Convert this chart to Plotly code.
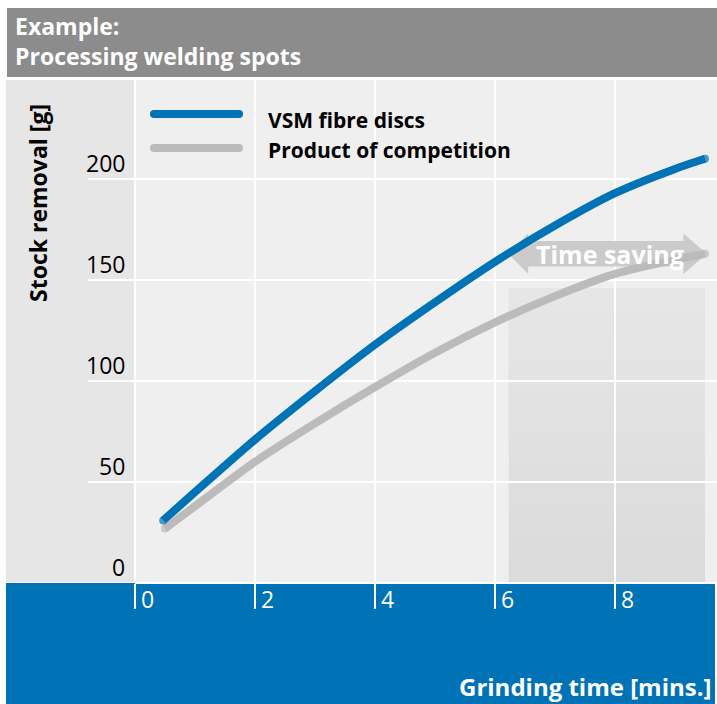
import numpy as np
import plotly.graph_objects as go

# ---------------- data ----------------
vsm_x = [0.47, 1, 2, 3, 4, 5, 6, 7, 8, 9, 9.5]
vsm_y = [31, 45, 71, 95, 118, 139, 159, 177, 193, 205, 210]
comp_x = [0.5, 1, 2, 3, 4, 5, 6, 7, 8, 9, 9.5]
comp_y = [27, 38, 60, 79, 97, 114, 129, 142, 153, 160, 163]
series_names = ["VSM fibre discs", "Product of competition"]
x_ticks = [0, 2, 4, 6, 8]
y_ticks = [0, 50, 100, 150, 200]
title_lines = ["Example:", "Processing welding spots"]
x_title = "Grinding time [mins.]"
y_title = "Stock removal [g]"
arrow_label = "Time saving"

# ---------------- style / layout ----------------
W, H = 717, 704
FONT = "Open Sans"
BLUE = "#0072b6"
GRAY_LINE = "#bbbbbb"
TITLE_BG = "#8c8c8c"
LEFT_BG = "#e6e6e6"
PLOT_BG = "#efefef"
ARROW_C = "#cbcbcb"

def px(p):
    return p / W

def py(p):
    return 1 - p / H

XDOM = [px(135), 1.0]
YDOM = [py(583), py(80)]
X_RANGE = [0, 9.7]
Y_RANGE = [0, 249]
SHADE_TOP = 146

fig = go.Figure()

def add_series(xs, ys, color, name):
    sizes = [0] * len(xs)
    sizes[0] = 8
    sizes[-1] = 8
    fig.add_trace(go.Scatter(
        x=xs, y=ys, name=name, mode="lines+markers",
        line=dict(color=color, width=8, shape="spline", smoothing=0.8),
        marker=dict(color=color, size=sizes, line=dict(width=0)),
        showlegend=False, hoverinfo="skip"))

add_series(comp_x, comp_y, GRAY_LINE, series_names[1])
add_series(vsm_x, vsm_y, BLUE, series_names[0])

shapes = []
# background panels (paper)
shapes.append(dict(type="rect", xref="paper", yref="paper", x0=px(7), x1=1.0,
                   y0=py(77), y1=py(8), fillcolor=TITLE_BG, line=dict(width=0), layer="below"))
shapes.append(dict(type="rect", xref="paper", yref="paper", x0=px(6), x1=XDOM[0],
                   y0=YDOM[0], y1=YDOM[1], fillcolor=LEFT_BG, line=dict(width=0), layer="below"))
shapes.append(dict(type="rect", xref="paper", yref="paper", x0=px(6), x1=px(715),
                   y0=0, y1=YDOM[0], fillcolor=BLUE, line=dict(width=0), layer="below"))
# gridline stubs into the left panel
for v in y_ticks:
    shapes.append(dict(type="line", xref="paper", yref="y", x0=px(6) if v == 0 else px(88),
                       x1=XDOM[0], y0=v, y1=v, line=dict(color="white", width=2), layer="below"))

# time-saving region derived from data
t_left = float(np.interp(comp_y[-1], vsm_y, vsm_x))
t_right = comp_x[-1]
yc = comp_y[-1]
# shaded gradient region
nb = 12
for i in range(nb):
    top = SHADE_TOP * (nb - i) / nb
    shapes.append(dict(type="rect", xref="x", yref="y", x0=t_left, x1=t_right, y0=0, y1=top,
                       fillcolor="rgba(0,0,0,0.005)" if i else "#e6e6e6",
                       line=dict(width=0), layer="below"))
# double arrow
hh, bh = 10, 6.3
xa, xb = t_left + 0.33, t_right - 0.36
path = (f"M {t_left},{yc} L {xa},{yc+hh} L {xa},{yc+bh} L {xb},{yc+bh} L {xb},{yc+hh} "
        f"L {t_right+0.03},{yc} L {xb},{yc-hh} L {xb},{yc-bh} L {xa},{yc-bh} L {xa},{yc-hh} Z")
shapes.append(dict(type="path", xref="x", yref="y", path=path, fillcolor=ARROW_C,
                   line=dict(width=0), layer="between"))

# legend lines
for (ly, col) in [(114, BLUE), (148, GRAY_LINE)]:
    shapes.append(dict(type="line", xref="paper", yref="paper", x0=px(154), x1=px(239),
                       y0=py(ly), y1=py(ly), line=dict(color=col, width=8), layer="above"))
    for ex in (154, 239):
        shapes.append(dict(type="circle", xref="paper", yref="paper", xsizemode="pixel",
                           ysizemode="pixel", xanchor=px(ex), yanchor=py(ly),
                           x0=-4, x1=4, y0=-4, y1=4, fillcolor=col, line=dict(width=0),
                           layer="above"))

ann = []
bold = dict(family=FONT, weight="bold")
ann.append(dict(text="<br>".join(title_lines), xref="paper", yref="paper", x=px(13), y=py(41),
                xanchor="left", yanchor="middle", align="left", showarrow=False,
                font=dict(**bold, size=23, color="white")))
ann.append(dict(text=y_title, xref="paper", yref="paper", x=px(38), y=py(203), textangle=-90,
                xanchor="center", yanchor="middle", showarrow=False,
                font=dict(**bold, size=23, color="black")))
ann.append(dict(text=x_title, xref="paper", yref="paper", x=px(714), y=py(686),
                xanchor="right", yanchor="middle", showarrow=False,
                font=dict(**bold, size=24, color="white")))
for i, (name, ly) in enumerate(zip(series_names, [120, 150])):
    ann.append(dict(text=name, xref="paper", yref="paper", x=px(266), y=py(ly),
                    xanchor="left", yanchor="middle", showarrow=False,
                    font=dict(**bold, size=21, color="black")))
for v in y_ticks:
    ann.append(dict(text=str(v), xref="paper", yref="y", x=px(127), y=v, yshift=16,
                    xanchor="right", yanchor="middle", showarrow=False,
                    font=dict(family=FONT, size=23, color="black")))
for v in x_ticks:
    ann.append(dict(text=str(v), xref="x", yref="paper", x=v, y=YDOM[0], xshift=4, yshift=-16,
                    xanchor="left", yanchor="middle", showarrow=False,
                    font=dict(family=FONT, size=23, color="white")))
ann.append(dict(text=arrow_label, xref="x", yref="y", x=(t_left + t_right) / 2 + 0.05, y=yc,
                xanchor="center", yanchor="middle", showarrow=False,
                font=dict(**bold, size=25, color="white")))

fig.update_layout(
    width=W, height=H, margin=dict(l=0, r=0, t=0, b=0),
    paper_bgcolor="white", plot_bgcolor=PLOT_BG,
    shapes=shapes, annotations=ann, showlegend=False,
    xaxis=dict(domain=XDOM, range=X_RANGE, tickvals=x_ticks, showticklabels=False,
               showgrid=True, gridcolor="white", gridwidth=2, zeroline=True,
               zerolinecolor="white", zerolinewidth=2, ticks="outside", ticklen=25,
               tickwidth=2, tickcolor="white", showline=False, fixedrange=True),
    yaxis=dict(domain=YDOM, range=Y_RANGE, tickvals=y_ticks, showticklabels=False,
               showgrid=True, gridcolor="white", gridwidth=2, zeroline=True,
               zerolinecolor="white", zerolinewidth=2, ticks="", showline=False,
               fixedrange=True),
)

fig.write_html("out.html", config={"displayModeBar": False},
               post_script="document.body.style.margin='0';document.body.style.overflow='hidden';")
